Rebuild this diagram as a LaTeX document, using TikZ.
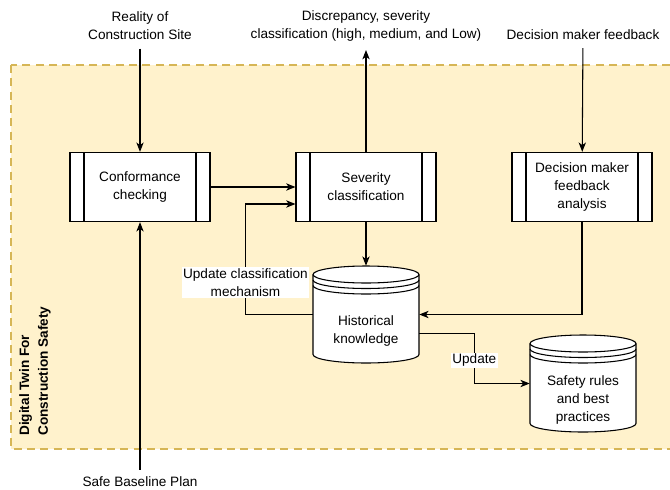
\documentclass[tikz,border=0pt]{standalone}
\usepackage{fontspec}
\setmainfont{Liberation Sans}
\usetikzlibrary{arrows.meta}
\definecolor{twinfill}{HTML}{FFF2CC}
\definecolor{twinline}{HTML}{D6B656}

\tikzset{
  procbox/.style={draw, fill=white, line width=0.8pt, minimum width=105pt, minimum height=52pt, align=center,
    path picture={
      \draw[line width=0.8pt] ([xshift=10.5pt]path picture bounding box.north west) -- ([xshift=10.5pt]path picture bounding box.south west);
      \draw[line width=0.8pt] ([xshift=-10.5pt]path picture bounding box.north east) -- ([xshift=-10.5pt]path picture bounding box.south east);
    }},
  store/.style={minimum width=79.5pt, minimum height=72.75pt, inner sep=0pt},
  storetext/.style={align=center, yshift=-12pt},
  flow/.style={-{Stealth[length=7pt,width=5.5pt,inset=2pt]}, line width=0.8pt},
  lbl/.style={fill=white, inner sep=1pt, align=center},
}

\begin{document}
\begin{tikzpicture}[x=0.75pt,y=0.75pt,yscale=-1,xscale=1,font={\fontsize{10.2pt}{13.5pt}\selectfont}]
\useasboundingbox (0,0) rectangle (670,489);

%Container
\draw[fill=twinfill, draw=twinline, line width=1.4pt, dash pattern=on 6pt off 4pt] (11,65) rectangle (690,449);
\node[rotate=90, anchor=north west, inner sep=0pt, align=left, font={\fontsize{10.2pt}{14pt}\selectfont\bfseries}] (twin) at (19,436) {Digital Twin For\\Construction Safety};

%Data stores
\foreach \l/\t/\r/\b in {313/266/419/363, 530/335/636/432}{
  \pgfmathsetmacro{\rx}{(\r-\l)/2}
  \draw[fill=white, line width=0.8pt] (\l,\t+8.5) -- (\l,\b-8.5) arc[start angle=180, end angle=0, x radius=\rx, y radius=8.5]
    -- (\r,\t+8.5) arc[start angle=0, end angle=-180, x radius=\rx, y radius=8.5] -- cycle;
  \foreach \d in {0,5.5,11}
    \draw[line width=0.8pt] (\l,\t+8.5+\d) arc[start angle=180, end angle=0, x radius=\rx, y radius=8.5];
}

% Process nodes
\node[procbox] (conf) at (140,187) {Conformance\\checking};
\node[procbox] (sev) at (366,187) {Severity\\classification};
\node[procbox] (dec) at (582,187) {Decision maker\\feedback\\analysis};
\node[store, label={[storetext, name=histtext]center:Historical\\knowledge}] (hist) at (366,314.5) {};
\node[store, label={[storetext, name=safetext]center:Safety rules\\and best\\practices}] (safe) at (583,383.5) {};

% Outside texts
\node[align=center] (reality) at (140,26) {Reality of\\Construction Site};
\node[align=center] (discrep) at (366,26) {Discrepancy, severity\\classification (high, medium, and Low)};
\node (feedback) at (583,35) {Decision maker feedback};
\node (baseline) at (140,482) {Safe Baseline Plan};

% Connectors
\draw[flow, shorten <=3pt] (reality) -- (conf);
\draw[flow, shorten >=3pt] (sev) -- (discrep);
\draw[flow, shorten <=2.5pt] (feedback) -- (dec);
\draw[flow, shorten <=2pt] (baseline) -- (conf);
\draw[flow] (conf) -- (sev);
\draw[flow] (hist.west) -| node[lbl, pos=0.645] (updcls) {Update classification\\mechanism} ([xshift=-37.5pt, yshift=12.75pt]sev.west) -- ([yshift=12.75pt]sev.west);
\draw[flow] (sev) -- (hist);
\draw[flow] (dec.south) |- (hist.east);
\draw[flow] ([yshift=13.9pt]hist.east) -- ++(55,0) |- node[lbl, pos=0.27] (upd) {Update} (safe.west);

\end{tikzpicture}
\end{document}
